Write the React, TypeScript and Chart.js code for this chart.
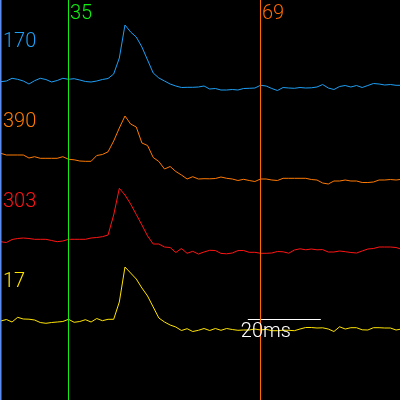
import React, { useEffect, useRef } from "react";
import { Chart, registerables } from "chart.js";

Chart.register(...registerables);

// sample index axis (markers are in sample units)
const X_MIN = 22.87;
const X_MAX = 93.7;
const FIRST_SAMPLE = 23;

const channelLabels = ["170", "390", "303", "17"];
const channelColors = ["#1E9FF5", "#FF7A00", "#FF1414", "#FFE400"];
const channelOffsets = [315, 235, 155, 75];

const blueValues = [3.3, 4, 6.7, 5.7, 4, 1, 4.3, 6.7, 5.5, 3, 4.5, 6.7, 5.7, 6.3, 5, 3.5, 3, 4, 5.5, 6.5, 11, 27, 60, 53, 48, 38, 25, 12, 7, 4, 1, -1, -2.5, -2.3, -2.3, -2, -1, -4, -3.5, -5, -5, -4.5, -5, -3.5, -3.3, -3, -0.3, -1, -3.5, -5.5, -2.5, -3, -3.3, -2.5, -3, -2.8, -2, 0.5, -3, -4.5, -1.5, -0.5, -2, -0.5, -2.5, -0.5, 1.5, 1, 0, 0.5, -0.3, -0.3];
const orangeValues = [11.7, 10, 10, 10, 10, 7, 8.3, 6.7, 6.7, 6.7, 6.7, 8.3, 5.7, 5.2, 4, 3.7, 3.7, 9.5, 10.5, 13.2, 24, 37, 49, 41, 38, 22, 19.5, 7.5, 3.5, -4, -1.5, -6.5, -10, -14, -11.7, -14, -13.7, -13.8, -13.5, -12, -13.3, -14, -15.5, -14.3, -15.5, -16.5, -14, -14, -15, -15.5, -13.3, -13.3, -13.3, -13.3, -13.3, -14.5, -15, -18, -19, -16, -16, -15, -16, -16, -17.5, -17.5, -17, -15, -15, -14.5, -15, -14.3];
const redValues = [3.3, 2.5, 5.5, 6.5, 7, 6.5, 5.7, 5.7, 5.7, 4.5, 3.3, 4, 5.7, 5.7, 5.7, 5.7, 7, 7.5, 8.3, 10, 30, 56.7, 50, 41, 30.5, 20, 9, 1, 1, -2, -2.5, -7.5, -3.5, -8.3, -6.3, -9, -7, -5.3, -5.5, -8.4, -8.8, -8, -5.6, -5.5, -7.3, -7.3, -8.3, -8.3, -8, -6.5, -6.8, -8.2, -5, -3.8, -4.8, -4, -4.8, -4.6, -7, -7, -6, -6.7, -7.5, -8, -6, -4, -3.5, -2, -2, -2, -2.5, -4.3];
const yellowValues = [4, 5.5, 3, 7.7, 6, 5.8, 5, 2.5, 1.7, 2.5, 3, 3.5, 5.7, 2.7, 3.5, 5.3, 3, 6.5, 4.3, 5.7, 5.7, 23, 58, 52, 46, 37, 29, 18, 7, 3, 0, -2, -5.5, -3.7, -6.5, -5.3, -3.5, -5.5, -3.5, -5.3, -3.5, -4.5, -5.3, -5, -5, -4, -5, -4.3, -5.7, -5.7, -5.2, -5.3, -5.7, -4, -2.5, -2.5, -3, -2.8, -4, -6.5, -1.8, -4, -2.7, -2.7, -4.8, -5, -2.7, -2.7, -3, -3, -5, -4];
const channelValues = [blueValues, orangeValues, redValues, yellowValues];

const markerPositions = [35, 69];
const markerLabels = ["35", "69"];
const markerColors = ["#10F010", "#FF6A00"];

const scaleBarStart = 66.75;
const scaleBarLength = 12.93; // 20 ms in sample units
const scaleBarY = 81;
const scaleBarLabel = "20ms";

const Y_MIN = 0;
const Y_MAX = 400;

const FONT = '300 20px Roboto, "DejaVu Sans", sans-serif';

export default function App() {
  const ref = useRef<HTMLCanvasElement | null>(null);

  useEffect(() => {
    document.body.style.margin = "0";
    document.body.style.overflow = "hidden";
    document.body.style.background = "#000";
    if (!ref.current) return;

    const traceSets = channelValues.map((vals, c) => ({
      label: channelLabels[c],
      data: vals.map((v, i) => ({ x: FIRST_SAMPLE + i, y: channelOffsets[c] + v })),
      borderColor: channelColors[c],
      borderWidth: 1,
      pointRadius: 0,
      tension: 0,
    }));

    const textPlugin = {
      id: "texts",
      beforeDraw(chart: any) {
        const ctx = chart.ctx;
        ctx.save();
        ctx.fillStyle = "#000";
        ctx.fillRect(0, 0, chart.width, chart.height);
        ctx.restore();
      },
      afterDatasetsDraw(chart: any) {
        const ctx = chart.ctx;
        const xs = chart.scales.x;
        const ys = chart.scales.y;
        const top = ys.getPixelForValue(Y_MAX);
        const bottom = ys.getPixelForValue(Y_MIN);
        ctx.save();
        // scale bar
        const by = Math.floor(ys.getPixelForValue(scaleBarY)) + 0.5;
        ctx.strokeStyle = "#FFFFFF";
        ctx.lineWidth = 1;
        ctx.beginPath();
        ctx.moveTo(xs.getPixelForValue(scaleBarStart), by);
        ctx.lineTo(xs.getPixelForValue(scaleBarStart + scaleBarLength), by);
        ctx.stroke();
        // markers
        markerPositions.forEach((m, k) => {
          const px = Math.floor(xs.getPixelForValue(m)) + 0.5;
          ctx.strokeStyle = markerColors[k];
          ctx.beginPath();
          ctx.moveTo(px, top);
          ctx.lineTo(px, bottom);
          ctx.stroke();
        });
        // left border
        ctx.fillStyle = "#5A8CF0";
        ctx.fillRect(xs.getPixelForValue(X_MIN), top, 1.5, bottom - top);
        ctx.font = FONT;
        ctx.textBaseline = "alphabetic";
        ctx.textAlign = "left";
        channelLabels.forEach((lab, c) => {
          ctx.fillStyle = channelColors[c];
          ctx.fillText(lab, xs.getPixelForValue(X_MIN) + 3, ys.getPixelForValue(channelOffsets[c]) - 38);
        });
        markerPositions.forEach((m, k) => {
          ctx.fillStyle = markerColors[k];
          ctx.fillText(markerLabels[k], Math.floor(xs.getPixelForValue(m)) + 2, top + 19);
        });
        ctx.fillStyle = "#FFFFFF";
        ctx.fillText(scaleBarLabel, xs.getPixelForValue(scaleBarStart) - 7, ys.getPixelForValue(scaleBarY) + 18);
        ctx.restore();
      },
    };

    const chart = new Chart(ref.current, {
      type: "line",
      data: { datasets: traceSets as any },
      options: {
        animation: false,
        responsive: true,
        maintainAspectRatio: false,
        layout: { padding: 0 },
        plugins: { legend: { display: false }, tooltip: { enabled: false } },
        scales: {
          x: { type: "linear", min: X_MIN, max: X_MAX, display: false },
          y: { type: "linear", min: Y_MIN, max: Y_MAX, display: false },
        },
      },
      plugins: [textPlugin],
    });
    return () => chart.destroy();
  }, []);

  return (
    <div style={{ width: 400, height: 400, background: "#000", position: "relative" }}>
      <canvas ref={ref} />
    </div>
  );
}
